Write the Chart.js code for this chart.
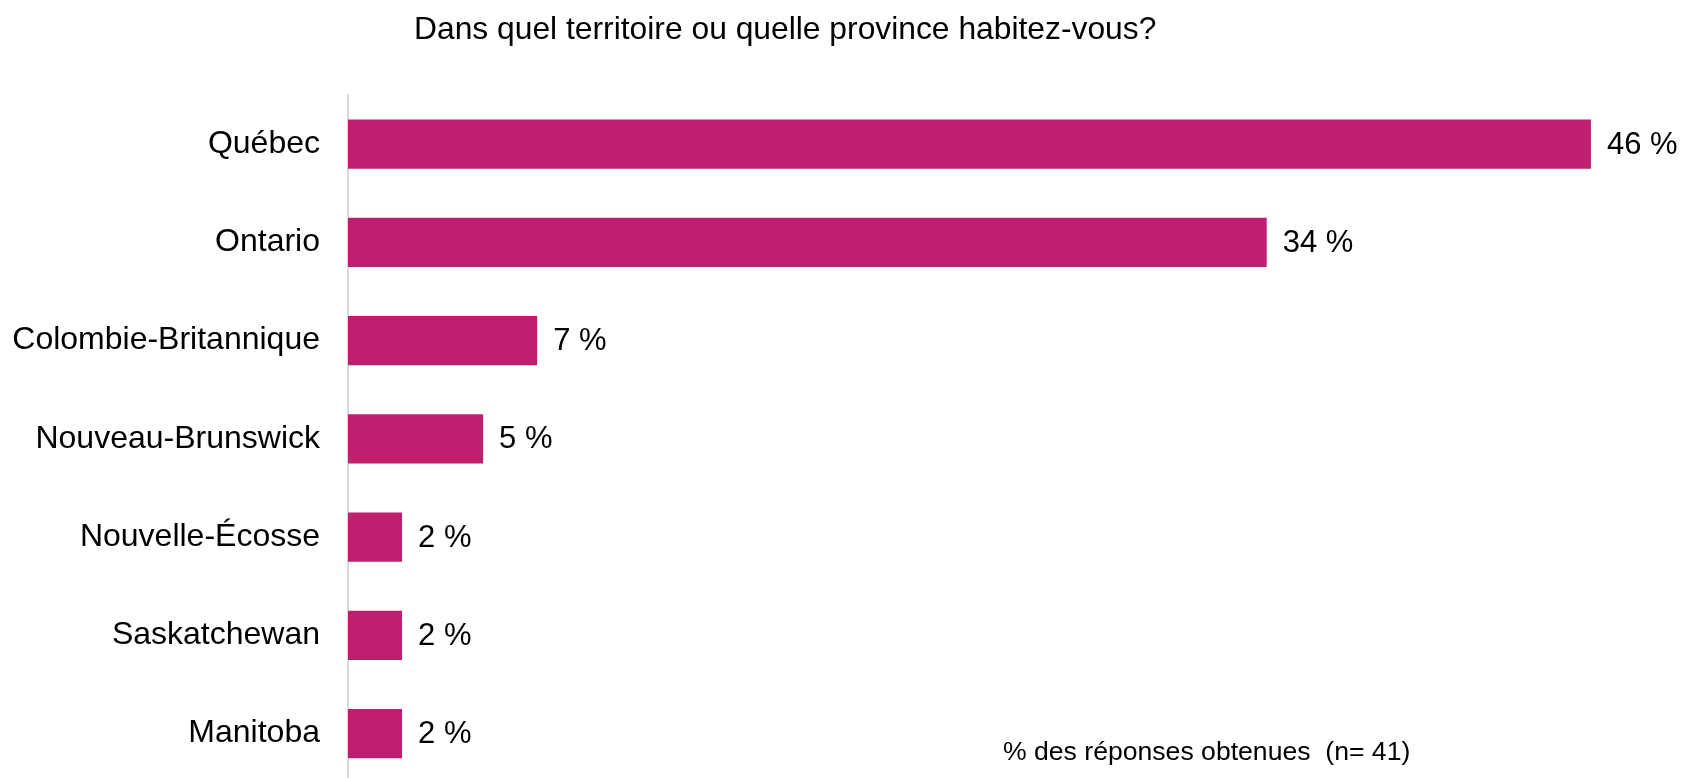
<!DOCTYPE html>
<html lang="fr">
<head>
<meta charset="utf-8">
<title>Dans quel territoire ou quelle province habitez-vous?</title>
<script src="https://cdn.jsdelivr.net/npm/chart.js@4.4.1/dist/chart.umd.min.js"></script>
<style>
  html, body { margin: 0; padding: 0; background: #ffffff; overflow: hidden; }
  #wrap { width: 1684px; height: 778px; overflow: hidden; }
  canvas { display: block; }
</style>
</head>
<body>
<div id="wrap"><canvas id="chart" width="1684" height="830"></canvas></div>
<script>
// Provinces / territoires et pourcentage des répondants
const categories = [
  'Québec',
  'Ontario',
  'Colombie-Britannique',
  'Nouveau-Brunswick',
  'Nouvelle-Écosse',
  'Saskatchewan',
  'Manitoba'
];
const percentages = [46, 34, 7, 5, 2, 2, 2];

const titleText = 'Dans quel territoire ou quelle province habitez-vous?';
const noteText = '% des réponses obtenues  (n= 41)';

const FONT = '"Liberation Sans", Arial, Helvetica, sans-serif';
const BAR_COLOR = '#BE1F6F';

// Title, value labels and footnote drawn on the canvas
const annotations = {
  id: 'annotations',
  afterDatasetsDraw(chart) {
    const ctx = chart.ctx;
    const meta = chart.getDatasetMeta(0);
    ctx.save();
    ctx.fillStyle = '#000000';
    ctx.font = '31px ' + FONT;
    ctx.textAlign = 'left';
    ctx.textBaseline = 'middle';
    meta.data.forEach((bar, i) => {
      ctx.fillText(percentages[i] + ' %', bar.x + 16, bar.y + 1);
    });
    ctx.restore();
  },
  afterDraw(chart) {
    const ctx = chart.ctx;
    ctx.save();
    ctx.fillStyle = '#000000';
    ctx.textAlign = 'left';
    ctx.textBaseline = 'alphabetic';
    ctx.font = '31.8px ' + FONT;
    ctx.fillText(titleText, 414, 39);
    ctx.font = '26.6px ' + FONT;
    ctx.fillText(noteText, 1003, 760);
    ctx.restore();
  }
};

new Chart(document.getElementById('chart'), {
  type: 'bar',
  data: {
    labels: categories,
    datasets: [{
      data: percentages,
      backgroundColor: BAR_COLOR,
      borderWidth: 0,
      barPercentage: 0.5,
      categoryPercentage: 1.0
    }]
  },
  options: {
    indexAxis: 'y',
    responsive: false,
    devicePixelRatio: 1,
    animation: false,
    layout: { padding: { top: 95, right: 12, bottom: 0, left: 0 } },
    plugins: {
      legend: { display: false },
      tooltip: { enabled: false },
      title: { display: false }
    },
    scales: {
      x: {
        display: false,
        min: 0,
        max: 49
      },
      y: {
        afterFit(scale) { scale.width = 348; },
        grid: { display: false, drawTicks: false },
        border: { display: true, color: '#D9D9D9', width: 2 },
        ticks: {
          padding: 28,
          color: '#000000',
          font: { family: FONT, size: 32 }
        }
      }
    }
  },
  plugins: [annotations]
});
</script>
</body>
</html>
